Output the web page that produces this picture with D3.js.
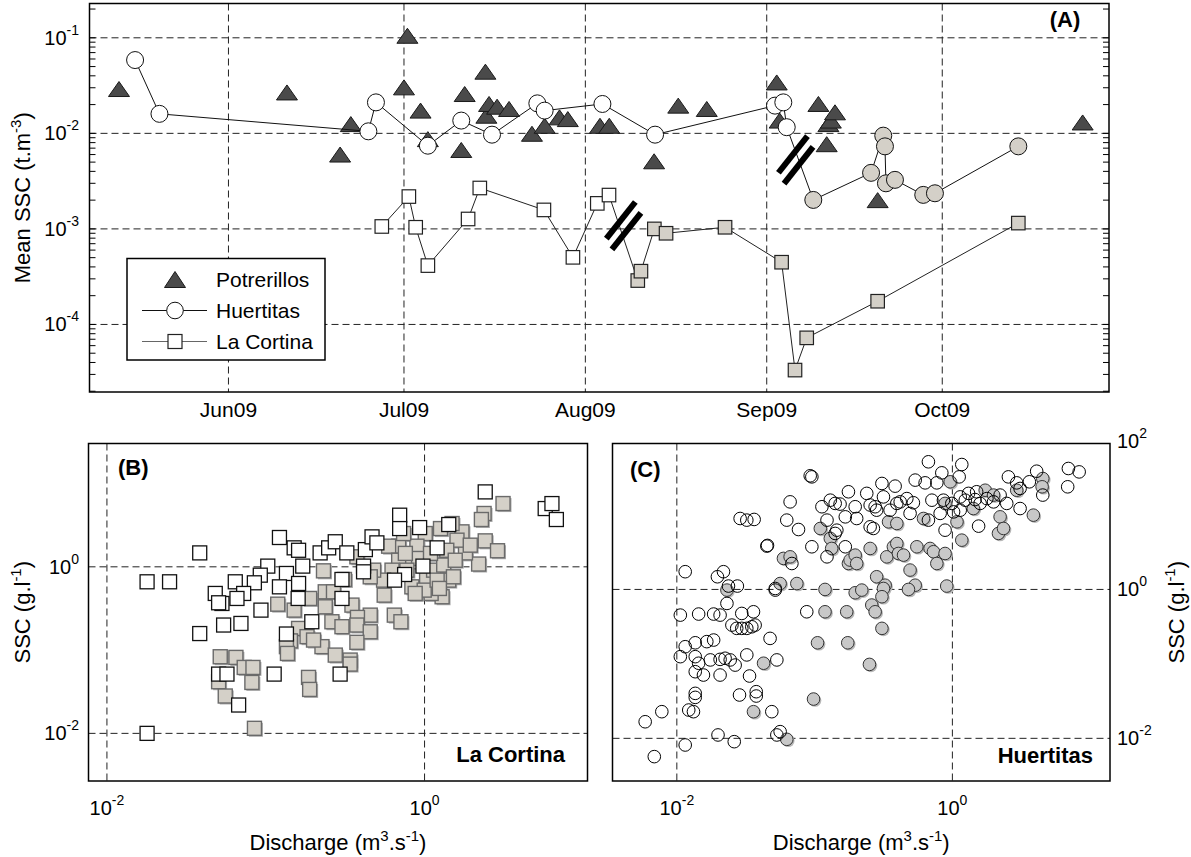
<!DOCTYPE html>
<html>
<head>
	<meta charset="utf-8">
	<title>Mean SSC and SSC vs discharge</title>
	<script src="https://d3js.org/d3.v7.min.js"></script>
	<style>
		body { margin: 0; background: #fff; }
		text { font-family: Arial, "Liberation Sans", sans-serif; fill: #000; }
	</style>
</head>
<body>
	<div class="chart"></div>

	<script type="text/javascript">

		// ---------- (A) mean SSC time series, t.m-3 ----------
		var potrerillosDates = ['2009-05-13 07', '2009-06-11 00', '2009-06-20 02', '2009-06-21 22', '2009-07-01 14', '2009-07-01 00',
			'2009-07-03 20', '2009-07-05 02', '2009-07-10 19', '2009-07-11 09', '2009-07-14 22', '2009-07-15 02', '2009-07-15 13',
			'2009-07-16 22', '2009-07-18 23', '2009-07-22 21', '2009-07-25 01', '2009-07-27 14', '2009-07-29 00', '2009-08-03 12',
			'2009-08-05 02', '2009-08-12 18', '2009-08-16 21', '2009-08-21 18', '2009-09-02 17', '2009-09-03 05', '2009-09-09 20',
			'2009-09-11 06', '2009-09-11 13', '2009-09-11 23', '2009-09-12 16', '2009-09-19 23', '2009-10-25 00']
		var potrerillosSSC = [0.0291, 0.0268, 0.0060, 0.0125, 0.105, 0.0303, 0.0173, 0.0087, 0.0067, 0.0258, 0.0442, 0.0153, 0.0203,
			0.0190, 0.0180, 0.0099, 0.0120, 0.0147, 0.0141, 0.0120, 0.0120, 0.0051, 0.0195, 0.0180, 0.0341, 0.0136, 0.0203,
			0.0077, 0.0125, 0.0136, 0.0166, 0.0020, 0.0130]

		var huertitasDates = ['2009-05-16 01', '2009-05-20 05', '2009-06-24 22', '2009-06-26 05', '2009-07-05 02', '2009-07-10 19',
			'2009-07-16 01', '2009-07-23 19', '2009-07-25 01', '2009-08-03 22', '2009-08-12 22', '2009-09-02 10', '2009-09-03 20',
			'2009-09-04 10', '2009-09-08 23', '2009-09-18 20', '2009-09-20 22', '2009-09-21 05', '2009-09-21 09', '2009-09-22 22',
			'2009-09-27 18', '2009-09-29 18', '2009-10-14 00']
		var huertitasSSC = [0.0585, 0.0160, 0.0105, 0.0211, 0.00743, 0.0136, 0.00969, 0.0206, 0.0173, 0.0203, 0.00969, 0.0195, 0.0211,
			0.0116, 0.00201, 0.00386, 0.00946, 0.00731, 0.0030, 0.00326, 0.00227, 0.00236, 0.00731]

		var cortinaDates = ['2009-06-27 05', '2009-07-01 20', '2009-07-03 00', '2009-07-05 02', '2009-07-11 23', '2009-07-13 23',
			'2009-07-24 22', '2009-07-29 21', '2009-08-03 01', '2009-08-05 01', '2009-08-09 23', '2009-08-10 12', '2009-08-12 19',
			'2009-08-14 19', '2009-08-24 21', '2009-09-03 13', '2009-09-05 20', '2009-09-07 20', '2009-09-19 23', '2009-10-14 00']
		var cortinaSSC = [0.00106, 0.00218, 0.00104, 0.000413, 0.00127, 0.00268, 0.00158, 0.000504, 0.00185, 0.00226, 0.000288,
			0.000361, 0.00100, 0.00090, 0.00104, 0.000448, 0.0000333, 0.0000724, 0.000175, 0.00115]

		// break marks: [date, SSC]; points after the break are drawn grey
		var cortinaBreak = ['2009-08-07 13', 0.00108]
		var huertitasBreak = ['2009-09-05 23', 0.00528]

		var monthTicks = ['2009-06-01 00', '2009-07-01 00', '2009-08-01 00', '2009-09-01 00', '2009-10-01 00']
		var sscATicks = [1e-1, 1e-2, 1e-3, 1e-4]

		// ---------- (B) La Cortina, [discharge m3.s-1, SSC g.l-1] ----------
		var cortinaOpen = [
			[0.0384, 1.47], [0.122, 2.25], [0.151, 1.69], [0.161, 1.58], [0.220, 1.47], [0.249, 1.69], [0.274, 2.00], [0.324, 1.47],
			[0.424, 1.61], [0.467, 2.29], [0.501, 1.94], [0.697, 4.17], [0.697, 2.88], [0.931, 2.96], [1.42, 3.22], [1.20, 1.69],
			[2.41, 7.94], [5.75, 5.01], [6.34, 5.75], [6.76, 3.70], [0.103, 1.02], [0.171, 1.02], [0.135, 0.832], [0.413, 1.02],
			[0.413, 0.871], [0.302, 0.705], [0.749, 0.809], [0.647, 0.692], [0.977, 1.02], [0.0924, 0.794], [0.0848, 0.643],
			[0.0643, 0.661], [0.0481, 0.479], [0.0530, 0.363], [0.0505, 0.370], [0.0726, 0.479], [0.0659, 0.417], [0.122, 0.575],
			[0.161, 0.631], [0.160, 0.417], [0.302, 0.417], [0.0933, 0.302], [0.0543, 0.200], [0.0698, 0.209], [0.0384, 0.158],
			[0.195, 0.219], [0.135, 0.156], [0.0505, 0.0515], [0.0570, 0.0515], [0.113, 0.0515], [0.294, 0.0515], [0.0675, 0.0219],
			[0.0179, 0.661], [0.0248, 0.661], [0.0179, 0.0100]
		]
		var cortinaFilled = [
			[3.12, 5.75], [2.37, 4.37], [2.28, 3.70], [2.41, 2.05], [2.88, 1.56], [2.19, 1.08], [1.72, 2.63], [1.81, 1.47],
			[1.60, 2.09], [1.38, 1.58], [1.26, 2.88], [1.49, 3.31], [1.42, 0.692], [1.29, 0.437], [1.10, 0.479], [1.03, 0.705],
			[1.14, 0.912], [1.32, 1.05], [1.01, 2.51], [0.895, 1.77], [0.813, 1.15], [0.832, 0.575], [0.917, 1.26], [0.687, 1.77],
			[0.594, 1.77], [0.687, 1.20], [0.624, 0.912], [0.552, 0.692], [0.557, 0.457], [0.478, 0.912], [0.455, 0.759],
			[0.375, 1.32], [0.231, 0.895], [0.313, 0.705], [0.237, 0.501], [0.267, 0.501], [0.189, 0.417], [0.119, 0.356],
			[0.151, 0.302], [0.237, 0.331], [0.349, 0.347], [0.455, 0.263], [0.378, 0.247], [0.261, 0.219], [0.302, 0.191],
			[0.375, 0.200], [0.455, 0.166], [0.375, 0.124], [0.645, 0.263], [0.710, 0.219], [0.161, 0.182], [0.182, 0.145],
			[0.143, 0.129], [0.135, 0.110], [0.226, 0.110], [0.200, 0.132], [0.274, 0.0871], [0.340, 0.0759], [0.340, 0.0679],
			[0.137, 0.0912], [0.0517, 0.0832], [0.0649, 0.0817], [0.0732, 0.0619], [0.0831, 0.0619], [0.0818, 0.0409],
			[0.0505, 0.0417], [0.0556, 0.0281], [0.186, 0.0470], [0.189, 0.0337], [0.995, 0.525], [1.20, 0.692], [1.09, 1.45],
			[0.757, 1.45], [1.56, 1.20], [0.738, 2.51], [0.0849, 0.0115], [0.774, 0.912], [0.873, 0.479], [1.52, 0.759],
			[1.24, 0.550], [1.94, 1.82]
		]

		// ---------- (C) Huertitas, [discharge m3.s-1, SSC g.l-1] ----------
		var huertitasOpen = [
			[0.0929, 33.6], [0.0955, 32.5], [0.670, 51.8], [1.17, 47.6], [0.838, 36.8], [1.12, 32.5], [0.537, 29.4], [4.09, 38.7],
			[6.95, 42.1], [8.32, 37.9], [2.55, 32.5], [2.93, 27.0], [6.87, 23.9], [0.308, 26.5], [0.384, 24.4], [0.634, 27.0],
			[0.771, 27.0], [1.50, 20.5], [1.31, 19.5], [2.22, 18.5], [3.10, 22.7], [3.62, 27.9], [4.53, 18.5], [0.176, 20.5],
			[0.239, 19.5], [0.316, 17.5], [0.467, 16.6], [0.418, 15.0], [0.395, 14.3], [0.521, 14.6], [0.710, 15.8], [0.861, 15.8],
			[0.991, 14.3], [1.14, 17.5], [1.24, 15.8], [1.46, 16.1], [1.78, 16.6], [0.0664, 15.0], [0.113, 12.9], [0.130, 15.8],
			[0.141, 14.3], [0.153, 14.0], [0.197, 12.9], [0.253, 13.6], [0.275, 12.9], [0.282, 11.6], [0.353, 11.6], [0.493, 10.5],
			[0.815, 10.5], [1.02, 11.0], [1.14, 11.6], [1.59, 14.3], [1.99, 15.0], [2.48, 14.3], [3.10, 12.2], [0.123, 8.53],
			[0.0628, 8.53], [0.167, 9.44], [0.253, 6.93], [0.267, 6.59], [0.0764, 6.38], [0.145, 6.25], [0.141, 5.65], [0.202, 8.97],
			[0.670, 8.53], [0.885, 6.25], [1.55, 7.08], [0.0955, 3.74], [0.167, 3.74], [0.123, 2.74], [0.0684, 2.23], [0.0518, 1.03],
			[0.0877, 0.501], [0.0288, 8.97], [0.0322, 8.53], [0.0364, 8.71], [0.0450, 3.82], [0.0455, 3.90], [0.0115, 1.73],
			[0.0197, 1.48], [0.0218, 1.73], [0.0237, 1.11], [0.0275, 1.11], [0.0231, 0.649], [0.0106, 0.452], [0.0144, 0.467],
			[0.0185, 0.467], [0.0206, 0.452], [0.0296, 0.476], [0.0360, 0.501], [0.0518, 0.98], [0.0251, 0.332], [0.0272, 0.300],
			[0.0296, 0.300], [0.0322, 0.300], [0.0350, 0.315], [0.0370, 0.332], [0.0115, 0.170], [0.0136, 0.192], [0.0165, 0.199],
			[0.0185, 0.209], [0.0475, 0.220], [0.0106, 0.125], [0.0136, 0.125], [0.0144, 0.102], [0.0175, 0.113], [0.0206, 0.115],
			[0.0224, 0.119], [0.0244, 0.113], [0.0265, 0.0964], [0.0322, 0.132], [0.0532, 0.113], [0.0136, 0.0785], [0.0156, 0.0708],
			[0.0206, 0.0708], [0.0337, 0.0687], [0.0136, 0.0402], [0.0136, 0.0355], [0.0285, 0.0382], [0.0377, 0.0423],
			[0.0377, 0.0370], [0.0122, 0.0240], [0.0132, 0.0228], [0.0489, 0.0228], [0.00778, 0.0228], [0.00589, 0.0167],
			[0.0199, 0.0111], [0.0261, 0.00902], [0.0115, 0.00814], [0.0532, 0.0111], [0.00686, 0.00568], [0.0562, 0.0123]
		]
		var huertitasFilled = [
			[4.53, 30.9], [0.964, 27.9], [1.73, 21.5], [2.93, 21.5], [0.617, 8.97], [3.87, 9.95], [2.22, 9.44], [0.344, 8.09],
			[0.395, 7.69], [0.110, 6.59], [1.08, 8.09], [2.16, 5.65], [2.35, 6.59], [0.130, 4.84], [1.17, 4.59], [0.133, 3.55],
			[0.0594, 2.61], [0.0664, 2.74], [0.176, 2.23], [0.181, 2.48], [0.197, 2.89], [0.202, 2.23], [0.253, 3.55], [0.334, 2.74],
			[0.373, 3.74], [0.395, 4.14], [0.406, 3.04], [0.442, 2.89], [0.552, 3.74], [0.689, 3.55], [0.729, 3.21], [0.771, 2.23],
			[0.885, 3.04], [0.493, 1.82], [0.0743, 1.20], [0.0562, 1.20], [0.119, 1.00], [0.197, 0.902], [0.220, 0.98],
			[0.282, 1.48], [0.325, 1.14], [0.316, 1.03], [0.537, 1.14], [0.480, 1.00], [0.910, 1.11], [0.119, 0.501], [0.171, 0.501],
			[0.260, 0.617], [0.275, 0.501], [0.308, 0.798], [0.0231, 0.98], [0.308, 0.300], [0.105, 0.192], [0.174, 0.192],
			[0.250, 0.0984], [0.0982, 0.0337], [0.0628, 0.0097], [0.0426, 0.102], [0.0360, 0.0228], [0.885, 14.3], [1.42, 12.2],
			[1.99, 18.5], [4.48, 23.9]
		]

		var qTicks = [1e-2, 1]
		var sscBTicks = [1e-2, 1]
		var sscCTicks = [1e-2, 1, 1e2]

		var width = 1191
		var height = 857
		var parseT = d3.timeParse('%Y-%m-%d %H')

		var svg = d3
			.select('.chart')
			.append('svg')
			.attr('width', width)
			.attr('height', height)
			.style('background-color', '#fff')

		var GREY = '#d4d0c8'
		var DASH = '7,4'

		// 10^n label, superscript exponent
		function powLabel(g, x, y, v, anchor) {
			var t = g.append('text').attr('x', x).attr('y', y).attr('text-anchor', anchor).attr('font-size', 20)
			t.append('tspan').text('10')
			t.append('tspan').attr('dy', -10).attr('font-size', 14).text(Math.round(Math.log10(v)))
			return t
		}

		// text made of [string, isSuperscript] parts
		function richText(g, parts, size) {
			var t = g.append('text').attr('font-size', size).attr('text-anchor', 'middle')
			var up = false
			parts.forEach(function(p) {
				var ts = t.append('tspan').text(p[0])
				if (p[1]) {
					ts.attr('font-size', size * 0.68)
					if (!up) ts.attr('dy', -9)
					up = true
				} else if (up) {
					ts.attr('dy', 9)
					up = false
				}
			})
			return t
		}

		function frame(g, b) {
			g.append('rect')
				.attr('x', b.left).attr('y', b.top)
				.attr('width', b.right - b.left).attr('height', b.bottom - b.top)
				.attr('fill', 'none').attr('stroke', '#000').attr('stroke-width', 1.5)
		}

		function hGrid(g, y, vals, b) {
			g.selectAll(null).data(vals).enter().append('line')
				.attr('x1', b.left).attr('x2', b.right)
				.attr('y1', d => y(d)).attr('y2', d => y(d))
				.attr('stroke', '#222').attr('stroke-dasharray', DASH)
		}

		function vGrid(g, x, vals, b) {
			g.selectAll(null).data(vals).enter().append('line')
				.attr('y1', b.top).attr('y2', b.bottom)
				.attr('x1', d => x(d)).attr('x2', d => x(d))
				.attr('stroke', '#222').attr('stroke-dasharray', DASH)
		}

		/**
		 * (A) time series
		 */
		var bA = { left: 89.5, right: 1109, top: 3.5, bottom: 392 }
		var xA = d3.scaleTime()
			.domain([parseT('2009-05-08 06'), parseT('2009-10-29 12')])
			.range([bA.left, bA.right])
		var yA = d3.scaleLog()
			.domain([Math.pow(10, -4.707), Math.pow(10, -0.641)])
			.range([bA.bottom, bA.top])

		var gA = svg.append('g')
		hGrid(gA, yA, sscATicks, bA)
		vGrid(gA, xA, monthTicks.map(parseT), bA)

		// minor log ticks, inside on both sides
		var minor = []
		for (var k = -5; k <= 0; k++) {
			for (var m = 1; m <= 9; m++) {
				var v = m * Math.pow(10, k)
				if (v > yA.domain()[0] && v < yA.domain()[1]) minor.push(v)
			}
		}
		gA.selectAll(null).data(minor).enter().append('path')
			.attr('d', d => `M${bA.left},${yA(d)}h6M${bA.right},${yA(d)}h-6`)
			.attr('stroke', '#000')

		gA.selectAll(null).data(sscATicks).enter().each(function(d) {
			powLabel(gA, 79, yA(d) + 7, d, 'end')
		})
		gA.selectAll(null).data(monthTicks).enter().append('text')
			.attr('x', d => xA(parseT(d)))
			.attr('y', 417)
			.attr('text-anchor', 'middle')
			.attr('font-size', 21)
			.text(d => d3.timeFormat('%b%y')(parseT(d)))

		richText(gA, [['Mean SSC (t.m'], ['-3', true], [')']], 22)
			.attr('transform', `translate(30, ${(bA.top + bA.bottom) / 2}) rotate(-90)`)

		var lineGen = d3.line().x(d => xA(d.t)).y(d => yA(d.v))
		function series(dates, vals, brk) {
			var bt = brk ? parseT(brk[0]) : null
			return dates.map((d, i) => ({ t: parseT(d), v: vals[i], grey: bt !== null && parseT(d) > bt }))
				.sort((a, b) => a.t - b.t)
		}
		var potrerillos = series(potrerillosDates, potrerillosSSC, null)
		var huertitas = series(huertitasDates, huertitasSSC, huertitasBreak)
		var cortina = series(cortinaDates, cortinaSSC, cortinaBreak)

		var triW = 21, triH = 15
		var triPath = `M0,${-triH / 2}L${triW / 2},${triH / 2}L${-triW / 2},${triH / 2}Z`
		gA.selectAll(null).data(potrerillos).enter().append('path')
			.attr('d', triPath)
			.attr('transform', d => `translate(${xA(d.t)},${yA(d.v)})`)
			.attr('fill', '#4a4a4a').attr('stroke', '#1a1a1a').attr('stroke-width', 1)

		var sq = 13.5
		gA.append('path').datum(cortina).attr('d', lineGen)
			.attr('fill', 'none').attr('stroke', '#222').attr('stroke-width', 1)
		gA.selectAll(null).data(cortina).enter().append('rect')
			.attr('x', d => xA(d.t) - sq / 2).attr('y', d => yA(d.v) - sq / 2)
			.attr('width', sq).attr('height', sq)
			.attr('fill', d => d.grey ? GREY : '#fff').attr('stroke', '#222').attr('stroke-width', 1.2)

		gA.append('path').datum(huertitas).attr('d', lineGen)
			.attr('fill', 'none').attr('stroke', '#111').attr('stroke-width', 1)
		gA.selectAll(null).data(huertitas).enter().append('circle')
			.attr('cx', d => xA(d.t)).attr('cy', d => yA(d.v)).attr('r', 8.5)
			.attr('fill', d => d.grey ? GREY : '#fff').attr('stroke', '#111').attr('stroke-width', 1)

		// break marks: two thick parallel bars
		;[cortinaBreak, huertitasBreak].forEach(function(b) {
			var cx = xA(parseT(b[0])), cy = yA(b[1])
			;[-1, 1].forEach(function(s) {
				var ox = cx + s * 2.8, oy = cy + s * 5.4
				gA.append('line')
					.attr('x1', ox - 14.5).attr('y1', oy + 18.3)
					.attr('x2', ox + 14.5).attr('y2', oy - 18.3)
					.attr('stroke', '#000').attr('stroke-width', 6)
			})
		})

		// legend
		var lg = gA.append('g')
		lg.append('rect').attr('x', 127).attr('y', 258.5).attr('width', 198).attr('height', 101.5)
			.attr('fill', '#fff').attr('stroke', '#000').attr('stroke-width', 1.5)
		var legendItems = ['Potrerillos', 'Huertitas', 'La Cortina']
		legendItems.forEach(function(name, i) {
			var cy = 279.5 + i * 31
			if (i > 0) {
				lg.append('line').attr('x1', 142).attr('x2', 207).attr('y1', cy).attr('y2', cy)
					.attr('stroke', i === 1 ? '#111' : '#666').attr('stroke-width', 1)
			}
			if (i === 0) {
				lg.append('path').attr('d', `M0,-8L10.5,8L-10.5,8Z`).attr('transform', `translate(175,${cy})`)
					.attr('fill', '#4a4a4a').attr('stroke', '#1a1a1a')
			} else if (i === 1) {
				lg.append('circle').attr('cx', 175).attr('cy', cy).attr('r', 8.3)
					.attr('fill', '#fff').attr('stroke', '#111')
			} else {
				lg.append('rect').attr('x', 175 - 7).attr('y', cy - 7).attr('width', 14).attr('height', 14)
					.attr('fill', '#fff').attr('stroke', '#222').attr('stroke-width', 1.2)
			}
			lg.append('text').attr('x', 216).attr('y', cy + 7.5).attr('font-size', 21).text(name)
		})

		gA.append('text').attr('x', 1065).attr('y', 27).attr('text-anchor', 'middle')
			.attr('font-size', 22).attr('font-weight', 'bold').text('(A)')
		frame(gA, bA)

		/**
		 * (B) and (C) scatter panels
		 */
		function scatterPanel(b, xPow, yPow) {
			var x = d3.scaleLog().domain(xPow.map(p => Math.pow(10, p))).range([b.left, b.right])
			var y = d3.scaleLog().domain(yPow.map(p => Math.pow(10, p))).range([b.bottom, b.top])
			var g = svg.append('g')
			vGrid(g, x, qTicks, b)
			return { g: g, x: x, y: y }
		}

		// (B) La Cortina
		var bB = { left: 88.5, right: 587.5, top: 443.5, bottom: 781 }
		var pB = scatterPanel(bB, [-2.116, 1.026], [-2.572, 1.481])
		hGrid(pB.g, pB.y, sscBTicks, bB)
		var sqB = 14
		pB.g.selectAll(null).data(cortinaFilled).enter().append('rect')
			.attr('x', d => pB.x(d[0]) - sqB / 2 + 1.5).attr('y', d => pB.y(d[1]) - sqB / 2 + 1.5)
			.attr('width', sqB).attr('height', sqB).attr('fill', '#b0b0b0')
		pB.g.selectAll(null).data(cortinaFilled).enter().append('rect')
			.attr('x', d => pB.x(d[0]) - sqB / 2).attr('y', d => pB.y(d[1]) - sqB / 2)
			.attr('width', sqB).attr('height', sqB)
			.attr('fill', GREY).attr('stroke', '#6a6a6a').attr('stroke-width', 1.4)
		pB.g.selectAll(null).data(cortinaOpen).enter().append('rect')
			.attr('x', d => pB.x(d[0]) - sqB / 2).attr('y', d => pB.y(d[1]) - sqB / 2)
			.attr('width', sqB).attr('height', sqB)
			.attr('fill', '#fff').attr('stroke', '#111').attr('stroke-width', 1.3)
		sscBTicks.forEach(v => powLabel(pB.g, 79, pB.y(v) + 7, v, 'end'))
		qTicks.forEach(v => powLabel(pB.g, pB.x(v), 815, v, 'middle'))
		richText(pB.g, [['SSC (g.l'], ['-1', true], [')']], 22)
			.attr('transform', `translate(30, ${(bB.top + bB.bottom) / 2}) rotate(-90)`)
		richText(pB.g, [['Discharge (m'], ['3', true], ['.s'], ['-1', true], [')']], 22)
			.attr('x', (bB.left + bB.right) / 2).attr('y', 850)
		pB.g.append('text').attr('x', 118).attr('y', 475).attr('font-size', 22).attr('font-weight', 'bold').text('(B)')
		pB.g.append('text').attr('x', 565).attr('y', 762).attr('text-anchor', 'end')
			.attr('font-size', 22).attr('font-weight', 'bold').text('La Cortina')
		frame(pB.g, bB)

		// (C) Huertitas
		var bC = { left: 612.5, right: 1110, top: 443.5, bottom: 781 }
		var pC = scatterPanel(bC, [-2.467, 1.144], [-2.573, 1.96])
		hGrid(pC.g, pC.y, sscCTicks.filter(v => v < 50), bC)
		pC.g.selectAll(null).data(huertitasFilled).enter().append('circle')
			.attr('cx', d => pC.x(d[0]) + 1.5).attr('cy', d => pC.y(d[1]) + 1.5).attr('r', 6.3)
			.attr('fill', '#b8b8b8')
		pC.g.selectAll(null).data(huertitasFilled).enter().append('circle')
			.attr('cx', d => pC.x(d[0])).attr('cy', d => pC.y(d[1])).attr('r', 6.3)
			.attr('fill', '#c8c8c8').attr('stroke', '#333').attr('stroke-width', 1)
		pC.g.selectAll(null).data(huertitasOpen).enter().append('circle')
			.attr('cx', d => pC.x(d[0])).attr('cy', d => pC.y(d[1])).attr('r', 6.3)
			.attr('fill', 'none').attr('stroke', '#000').attr('stroke-width', 1)
		sscCTicks.forEach(v => powLabel(pC.g, 1117, pC.y(v) + 7, v, 'start'))
		qTicks.forEach(v => powLabel(pC.g, pC.x(v), 815, v, 'middle'))
		richText(pC.g, [['SSC (g.l'], ['-1', true], [')']], 22)
			.attr('transform', `translate(1184, ${(bC.top + bC.bottom) / 2}) rotate(-90)`)
		richText(pC.g, [['Discharge (m'], ['3', true], ['.s'], ['-1', true], [')']], 22)
			.attr('x', (bC.left + bC.right) / 2).attr('y', 850)
		pC.g.append('text').attr('x', 630).attr('y', 477).attr('font-size', 22).attr('font-weight', 'bold').text('(C)')
		pC.g.append('text').attr('x', 1093).attr('y', 763).attr('text-anchor', 'end')
			.attr('font-size', 22).attr('font-weight', 'bold').text('Huertitas')
		frame(pC.g, bC)

	</script>
</body>
</html>
